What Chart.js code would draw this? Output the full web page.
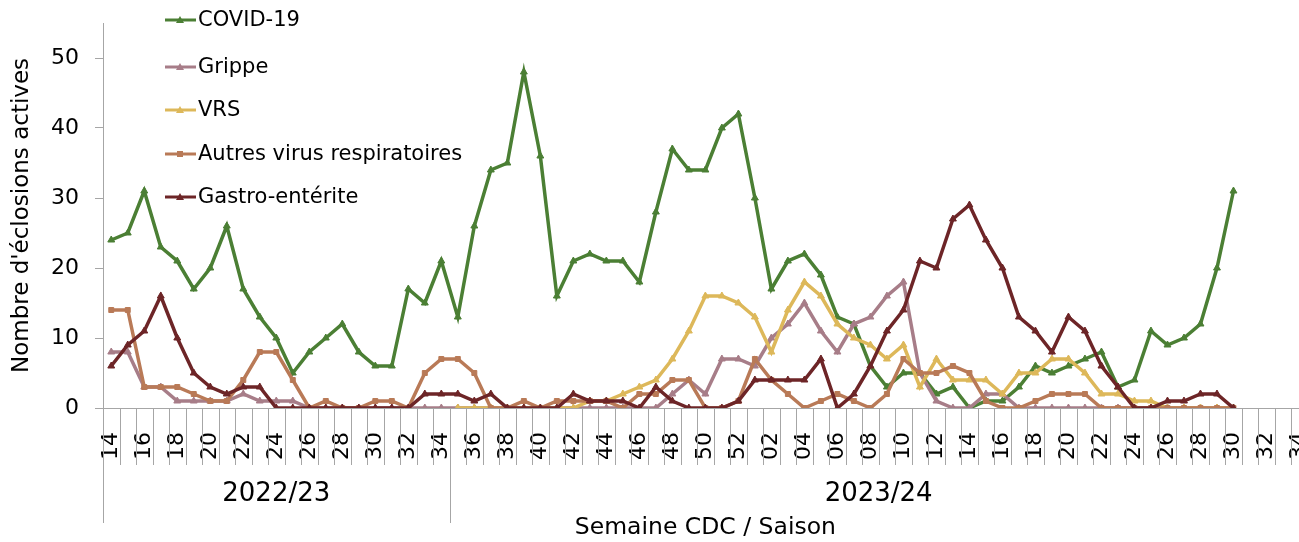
<!DOCTYPE html>
<html>
<head>
<meta charset="utf-8">
<script src="https://cdn.jsdelivr.net/npm/chart.js@4.4.0/dist/chart.umd.min.js"></script>
<style>
  html, body { margin: 0; padding: 0; background: #fff; overflow: hidden; }
  #wrap { width: 1350px; height: 542px; }
</style>
</head>
<body>
<div id="wrap"><canvas id="chart" width="1350" height="542"></canvas></div>
<script>
// semaines CDC (2022/23 : 14-34, 2023/24 : 35-52 puis 01-34)
const weeks = [
  "14","15","16","17","18","19","20","21","22","23","24","25","26","27","28","29","30","31","32","33","34",
  "35","36","37","38","39","40","41","42","43","44","45","46","47","48","49","50","51","52",
  "01","02","03","04","05","06","07","08","09","10","11","12","13","14","15","16","17","18","19","20",
  "21","22","23","24","25","26","27","28","29","30","31","32","33","34"
];
const seasonLabels = ["2022/23", "2023/24"];
const seasonStarts = [0, 21];

const covid = [
  24,25,31,23,21,17,20,26,17,13,10,5,8,10,12,8,6,6,17,15,21,
  13,26,34,35,48,36,16,21,22,21,21,18,28,37,34,34,40,42,
  30,17,21,22,19,13,12,6,3,5,5,2,3,0,1,1,3,6,5,6,7,8,3,4,11,9,10,12,20,31,null,null,null,null
];
const grippe = [
  8,8,3,3,1,1,1,1,2,1,1,1,0,0,0,0,0,0,0,0,0,
  0,0,0,0,0,0,0,0,0,0,0,0,0,2,4,2,7,7,
  6,10,12,15,11,8,12,13,16,18,5,1,0,0,2,2,0,0,0,0,0,0,0,0,0,0,0,0,0,0,null,null,null,null
];
const vrs = [
  null,null,null,null,null,null,null,null,null,null,null,null,null,null,null,null,null,null,null,null,null,
  0,0,0,0,0,0,0,0,1,1,2,3,4,7,11,16,16,15,
  13,8,14,18,16,12,10,9,7,9,3,7,4,4,4,2,5,5,7,7,5,2,2,1,1,0,0,0,0,0,null,null,null,null
];
const autres = [
  14,14,3,3,3,2,1,1,4,8,8,4,0,1,0,0,1,1,0,5,7,
  7,5,0,0,1,0,1,1,1,1,0,2,2,4,4,0,0,1,
  7,4,2,0,1,2,1,0,2,7,5,5,6,5,1,0,0,1,2,2,2,0,0,0,0,0,0,0,0,0,null,null,null,null
];
const gastro = [
  6,9,11,16,10,5,3,2,3,3,0,0,0,0,0,0,0,0,0,2,2,
  2,1,2,0,0,0,0,2,1,1,1,0,3,1,0,0,0,1,
  4,4,4,4,7,0,2,6,11,14,21,20,27,29,24,20,13,11,8,13,11,6,3,0,0,1,1,2,2,0,null,null,null,null
];

const FONT = "'DejaVu Sans', sans-serif";
const GREY = "#A6A6A6";

function serie(label, data, color, style, order) {
  return {
    label: label,
    data: data,
    borderColor: color,
    backgroundColor: color,
    pointBackgroundColor: color,
    pointBorderColor: color,
    borderWidth: 3.5,
    pointStyle: style,
    pointRadius: style === "rect" ? 3.5 : 4,
    pointBorderWidth: 1,
    tension: 0,
    spanGaps: false,
    order: order
  };
}

const datasets = [
  serie("COVID-19", covid, "#4B7F34", "triangle", 5),
  serie("Grippe", grippe, "#A77D88", "triangle", 4),
  serie("VRS", vrs, "#DDB85A", "triangle", 3),
  serie("Autres virus respiratoires", autres, "#B97A57", "rect", 2),
  serie("Gastro-entérite", gastro, "#6D2527", "triangle", 1)
];

// axe x : petits traits entre semaines, saisons, légende
const decor = {
  id: "decor",
  afterDraw(chart) {
    const ctx = chart.ctx;
    const x = chart.scales.x;
    const bottom = chart.chartArea.bottom;
    ctx.save();
    ctx.strokeStyle = GREY;
    ctx.lineWidth = 1;
    for (let i = 0; i <= weeks.length; i++) {
      const px = Math.round(x.getPixelForValue(i - 0.5)) + 0.5;
      const long = seasonStarts.includes(i);
      ctx.beginPath();
      ctx.moveTo(px, bottom);
      ctx.lineTo(px, bottom + (long ? 115 : 57));
      ctx.stroke();
    }
    ctx.fillStyle = "#000";
    ctx.font = "26px " + FONT;
    ctx.textAlign = "center";
    ctx.textBaseline = "middle";
    seasonLabels.forEach((s, k) => {
      const a = seasonStarts[k];
      const b = k + 1 < seasonStarts.length ? seasonStarts[k + 1] : weeks.length;
      const cx = (x.getPixelForValue(a - 0.5) + x.getPixelForValue(b - 0.5)) / 2;
      ctx.fillText(s, cx, bottom + 86);
    });

    // légende
    const ys = [20, 67, 110, 154, 197];
    ctx.font = "21px " + FONT;
    ctx.textAlign = "left";
    chart.data.datasets.forEach((d, k) => {
      const y = ys[k];
      ctx.strokeStyle = d.borderColor;
      ctx.lineWidth = 3;
      ctx.beginPath();
      ctx.moveTo(165, y);
      ctx.lineTo(196, y);
      ctx.stroke();
      ctx.fillStyle = d.borderColor;
      if (d.pointStyle === "rect") {
        ctx.fillRect(177, y - 3, 6, 6);
      } else {
        ctx.beginPath();
        ctx.moveTo(180, y - 4);
        ctx.lineTo(184, y + 3);
        ctx.lineTo(176, y + 3);
        ctx.closePath();
        ctx.fill();
      }
      ctx.fillStyle = "#000";
      ctx.fillText(d.label, 198, y + 1);
    });
    ctx.restore();
  }
};

new Chart(document.getElementById("chart"), {
  type: "line",
  data: { labels: weeks, datasets: datasets },
  plugins: [decor],
  options: {
    responsive: false,
    animation: false,
    devicePixelRatio: 1,
    layout: { padding: { left: 8, top: 23, right: 15, bottom: 0 } },
    plugins: { legend: { display: false }, tooltip: { enabled: false } },
    scales: {
      x: {
        offset: true,
        afterFit: function (s) { s.height = 134; },
        grid: { display: false, drawTicks: false },
        border: { display: true, color: GREY },
        ticks: {
          autoSkip: false,
          minRotation: 90,
          maxRotation: 90,
          padding: 24,
          color: "#000",
          font: { family: FONT, size: 22 },
          callback: function (v, i) {
            return parseInt(weeks[i], 10) % 2 === 0 ? weeks[i] : "";
          }
        },
        title: {
          display: true,
          text: "Semaine CDC / Saison",
          color: "#000",
          font: { family: FONT, size: 23.5 },
          padding: { top: 0, bottom: 0 }
        }
      },
      y: {
        min: 0,
        max: 55,
        afterFit: function (s) { s.width = 95; s.paddingTop = 0; s.paddingBottom = 0; },
        grid: { drawOnChartArea: false, drawTicks: true, tickLength: 8, color: GREY },
        border: { display: true, color: GREY },
        ticks: {
          stepSize: 10,
          includeBounds: false,
          padding: 16,
          color: "#000",
          font: { family: FONT, size: 22 }
        },
        title: {
          display: true,
          text: "Nombre d'éclosions actives",
          color: "#000",
          font: { family: FONT, size: 23 },
          padding: { top: 0, bottom: 0 }
        }
      }
    }
  }
});
</script>
</body>
</html>
